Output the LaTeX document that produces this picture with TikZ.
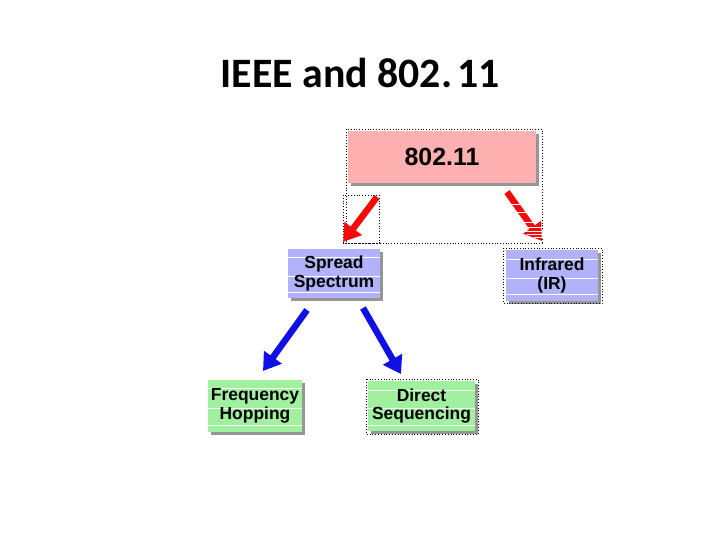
\documentclass[tikz,border=0pt]{standalone}
\usepackage{fontspec}
\setmainfont{Liberation Sans}
\newfontfamily\titlefont{Carlito}
\usetikzlibrary{shadows,arrows.meta,calc}
\definecolor{pinkbox}{RGB}{255,176,176}
\definecolor{lavbox}{RGB}{178,178,250}
\definecolor{greenbox}{RGB}{160,240,160}
\definecolor{shadowgray}{RGB}{150,150,150}
\definecolor{arrowred}{RGB}{245,10,10}
\definecolor{arrowblue}{RGB}{15,15,230}
\begin{document}
\begin{tikzpicture}[x=1bp,y=-1bp,
  box/.style={draw=none, inner sep=0pt, align=center,
    font=\bfseries\fontsize{17.5}{19}\selectfont,
    drop shadow={shadow xshift=3bp, shadow yshift=-3bp, fill=shadowgray, opacity=1}},
  striped/.style={path picture={
    \foreach \f in {0.18,0.55,0.88}
      \draw[white, line width=0.8bp]
        ($(path picture bounding box.north west)!\f!(path picture bounding box.south west)$) --
        ($(path picture bounding box.north east)!\f!(path picture bounding box.south east)$);}},
  dottedframe/.style={draw=black, dotted, line width=0.8bp},
  bigarrow/.style={line width=6.5bp, -{Triangle[length=17bp,width=21bp]}},
  stripe/.style={white, line width=1bp}
]
\useasboundingbox (0,0) rectangle (720,540);

\node[font=\titlefont\bfseries\fontsize{42}{48}\selectfont, anchor=base] (title) at (360,88) {IEEE and 802.\hspace{0.12em}11};

% dotted frames
\draw[dottedframe] (346,129) rectangle (542,243);
\draw[dottedframe] (343,195) rectangle (379,243);

% boxes
\node[box, fill=pinkbox, minimum width=188bp, minimum height=52bp,
  font=\bfseries\fontsize{25}{26}\selectfont] (w80211) at (442,157) {802.11};
\node[box, fill=lavbox, striped, minimum width=92bp, minimum height=49bp] (spread) at (334,273.5) {Spread\\Spectrum};
\node[box, fill=lavbox, striped, minimum width=92bp, minimum height=50bp] (ir) at (552,275.5) {Infrared\\(IR)};
\draw[dottedframe] (503,248) rectangle (602,303);
\node[box, fill=greenbox, striped, minimum width=94bp, minimum height=52bp] (fh) at (255,405.5) {Frequency\\Hopping};
\node[box, fill=greenbox, striped, minimum width=107bp, minimum height=50bp] (ds) at (421.5,406) {Direct\\Sequencing};
\draw[dottedframe] (366,379) rectangle (478,434);

% arrow coordinates
\coordinate (r1s) at (377,197);
\coordinate (r1e) at (343,242);
\coordinate (r2s) at (507,192);
\coordinate (r2e) at (542,241);
\coordinate (b1s) at (307,310);
\coordinate (b1e) at (263,371);
\coordinate (b2s) at (363,308);
\coordinate (b2e) at (401,374);

\draw[bigarrow, arrowred] (r1s) -- (r1e);
\draw[bigarrow, arrowred] (r2s) -- (r2e);
\foreach \t/\w in {0.25/4.5,0.42/4.5,0.62/9,0.72/11,0.8/12,0.87/10,0.93/6}
  \draw[stripe] ($(r2s)!\t!(r2e)$) +(-\w,0) -- +(\w,0);
\draw[bigarrow, arrowblue] (b1s) -- (b1e);
\draw[bigarrow, arrowblue] (b2s) -- (b2e);
\end{tikzpicture}
\end{document}
